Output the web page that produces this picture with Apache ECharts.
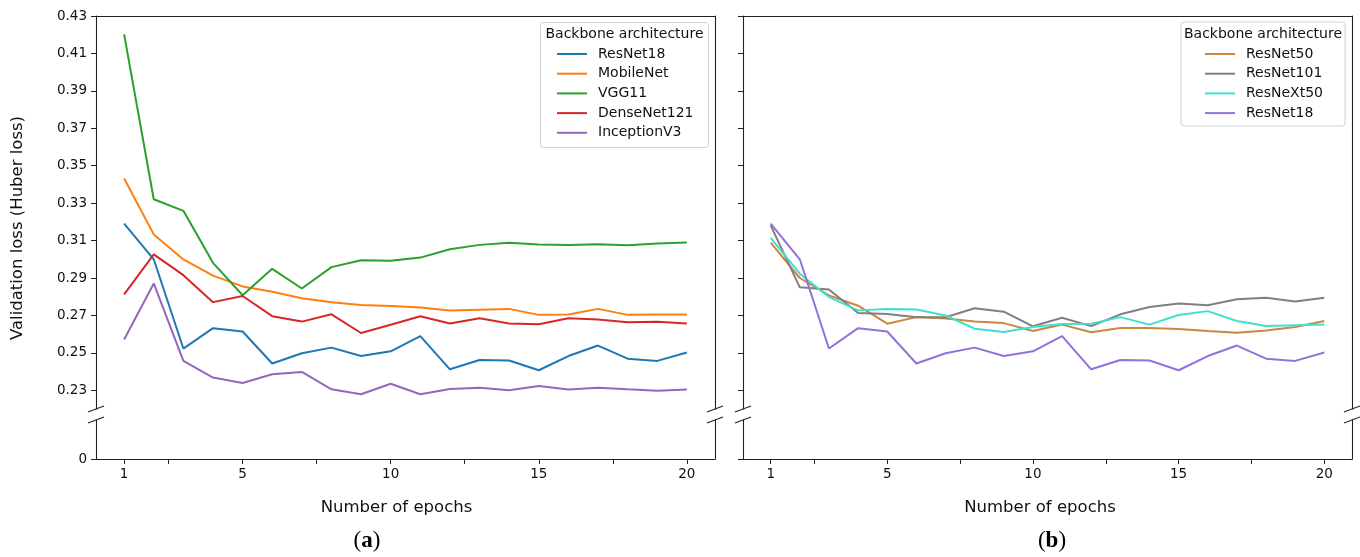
<!DOCTYPE html>
<html>
<head>
<meta charset="utf-8">
<script src="https://cdn.jsdelivr.net/npm/echarts@6/dist/echarts.min.js"></script>
<style>
  html, body { margin: 0; padding: 0; background: #fff; }
  #main { width: 1360px; height: 557px; }
</style>
</head>
<body>
<div id="main"></div>
<script>
// epochs and tick positions
const epochs = [1, 2, 3, 4, 5, 6, 7, 8, 9, 10, 11, 12, 13, 14, 15, 16, 17, 18, 19, 20];
const xLabelVals = [1, 5, 10, 15, 20];
const xTickVals = [1, 2.5, 5, 7.5, 10, 12.5, 15, 17.5, 20];
const yTickVals = [0.23, 0.25, 0.27, 0.29, 0.31, 0.33, 0.35, 0.37, 0.39, 0.41, 0.43];

// panel (a)
const resnet18 = [0.3190, 0.3000, 0.2523, 0.2632, 0.2614, 0.2443, 0.2498, 0.2528, 0.2483, 0.2508, 0.2589, 0.2412, 0.2462, 0.2459, 0.2407, 0.2483, 0.2539, 0.2469, 0.2457, 0.2502];
const mobilenet = [0.3432, 0.3133, 0.2999, 0.2913, 0.2855, 0.2826, 0.2792, 0.2771, 0.2756, 0.2750, 0.2742, 0.2726, 0.2731, 0.2735, 0.2703, 0.2705, 0.2735, 0.2703, 0.2705, 0.2705];
const vgg11 = [0.4202, 0.3321, 0.3259, 0.2981, 0.2808, 0.2949, 0.2844, 0.2958, 0.2995, 0.2992, 0.3009, 0.3054, 0.3077, 0.3088, 0.3079, 0.3077, 0.3081, 0.3075, 0.3084, 0.3090];
const densenet121 = [0.2813, 0.3026, 0.2915, 0.2771, 0.2804, 0.2696, 0.2667, 0.2706, 0.2606, 0.2650, 0.2696, 0.2657, 0.2685, 0.2657, 0.2653, 0.2685, 0.2678, 0.2664, 0.2666, 0.2657];
const inceptionv3 = [0.2571, 0.2871, 0.2457, 0.2368, 0.2339, 0.2386, 0.2398, 0.2305, 0.2279, 0.2335, 0.2279, 0.2307, 0.2314, 0.2300, 0.2323, 0.2304, 0.2314, 0.2305, 0.2298, 0.2304];

// panel (b)
const resnet50 = [0.3089, 0.2900, 0.2807, 0.2752, 0.2656, 0.2691, 0.2683, 0.2667, 0.2659, 0.2617, 0.2651, 0.2610, 0.2633, 0.2633, 0.2627, 0.2617, 0.2608, 0.2620, 0.2638, 0.2670];
const resnet101 = [0.3181, 0.2850, 0.2839, 0.2713, 0.2707, 0.2690, 0.2690, 0.2738, 0.2720, 0.2642, 0.2688, 0.2643, 0.2706, 0.2745, 0.2764, 0.2754, 0.2786, 0.2795, 0.2775, 0.2795];
const resnext50 = [0.3115, 0.2923, 0.2798, 0.2727, 0.2734, 0.2732, 0.2700, 0.2629, 0.2611, 0.2638, 0.2654, 0.2656, 0.2691, 0.2651, 0.2702, 0.2723, 0.2670, 0.2643, 0.2647, 0.2651];

const seriesA = [
  { name: 'ResNet18', data: resnet18, color: '#1f77b4' },
  { name: 'MobileNet', data: mobilenet, color: '#ff7f0e' },
  { name: 'VGG11', data: vgg11, color: '#2ca02c' },
  { name: 'DenseNet121', data: densenet121, color: '#d62728' },
  { name: 'InceptionV3', data: inceptionv3, color: '#9467bd' }
];
const seriesB = [
  { name: 'ResNet50', data: resnet50, color: '#cd853f' },
  { name: 'ResNet101', data: resnet101, color: '#808080' },
  { name: 'ResNeXt50', data: resnext50, color: '#40e0d0' },
  { name: 'ResNet18', data: resnet18, color: '#9370db' }
];

const FONT = 'DejaVu Sans';
const TXT = '#111';
const SPINE = { show: true, onZero: false, lineStyle: { color: '#222', width: 1.1 } };

const gridA = { left: 96, width: 619 };
const gridB = { left: 743, width: 609 };
const grids = [
  { left: gridA.left, width: gridA.width, top: 16, height: 393 },
  { left: gridA.left, width: gridA.width, top: 420, height: 39 },
  { left: gridB.left, width: gridB.width, top: 16, height: 393 },
  { left: gridB.left, width: gridB.width, top: 420, height: 39 }
].map(g => Object.assign(g, { outerBoundsMode: 'none', containLabel: false }));

function topX(gi) {
  return {
    type: 'value', gridIndex: gi, position: 'top', min: 0.05, max: 20.95,
    axisLine: SPINE, axisTick: { show: false }, axisLabel: { show: false }, splitLine: { show: false }
  };
}
function bottomX(gi, shift) {
  return {
    type: 'value', gridIndex: gi, position: 'bottom', min: 0.05, max: 20.95,
    axisLine: SPINE,
    axisTick: { show: true, length: 5, customValues: xTickVals, lineStyle: { color: '#222' } },
    axisLabel: { show: true, customValues: xLabelVals, margin: 8, fontFamily: FONT, fontSize: 13.5, color: TXT },
    splitLine: { show: false },
    name: 'Number of epochs', nameLocation: 'middle', nameGap: 40,
    nameTextStyle: { fontFamily: FONT, fontSize: 16.5, color: TXT, padding: [0, shift, 0, 0] }
  };
}
function leftY(gi, min, max, ticks, labels) {
  return {
    type: 'value', gridIndex: gi, position: 'left', min: min, max: max,
    axisLine: SPINE,
    axisTick: { show: true, length: 5, customValues: ticks, lineStyle: { color: '#222' } },
    axisLabel: {
      show: labels, customValues: ticks, margin: 9, fontFamily: FONT, fontSize: 13.5, color: TXT,
      formatter: v => (v === 0 ? '0' : v.toFixed(2))
    },
    splitLine: { show: false }
  };
}
function rightY(gi, min, max) {
  return {
    type: 'value', gridIndex: gi, position: 'right', min: min, max: max,
    axisLine: SPINE, axisTick: { show: false }, axisLabel: { show: false }, splitLine: { show: false }
  };
}

const xAxis = [topX(0), bottomX(1, 18), topX(2), bottomX(3, 15)];
const yAxis = [
  leftY(0, 0.22, 0.43, yTickVals, true), rightY(0, 0.22, 0.43),
  leftY(1, 0, 0.02, [0], true), rightY(1, 0, 0.02),
  leftY(2, 0.22, 0.43, yTickVals, false), rightY(2, 0.22, 0.43),
  leftY(3, 0, 0.02, [0], false), rightY(3, 0, 0.02)
];

function mkSeries(s, name, xi, yi) {
  return {
    type: 'line', name: name, xAxisIndex: xi, yAxisIndex: yi,
    data: epochs.map((e, i) => [e, s.data[i]]),
    symbol: 'none', color: s.color,
    lineStyle: { color: s.color, width: 2 },
    emphasis: { disabled: true }
  };
}
const series = [
  ...seriesA.map(s => mkSeries(s, s.name, 0, 0)),
  ...seriesB.map(s => mkSeries(s, s.name + ' (b)', 2, 4))
];

// thin line icon centred in a 30x14 box
const LINE_ICON = 'path://M0,0M0,6L30,6L30,8L0,8ZM30,14';

function legend(names, left) {
  return {
    orient: 'vertical', left: left, top: 47, padding: 0, z: 10,
    data: names, icon: LINE_ICON,
    itemWidth: 30, itemHeight: 14, itemGap: 5.7,
    formatter: n => n.replace(' (b)', ''),
    textStyle: { fontFamily: FONT, fontSize: 14, color: TXT, lineHeight: 14, padding: [0, 0, 0, 6] },
    selectedMode: false
  };
}

// broken axis marks
const breakMarks = [];
[96, 715, 743, 1352].forEach(x => {
  [409, 420].forEach(y => {
    breakMarks.push({
      type: 'line', shape: { x1: x - 8, y1: y + 3, x2: x + 8, y2: y - 3 },
      style: { stroke: '#222', lineWidth: 1.1 }, z: 100
    });
  });
});

const legendBox = (x, y, w, h) => ({
  type: 'rect', shape: { x: x, y: y, width: w, height: h, r: 3 },
  style: { fill: 'rgba(255,255,255,0.85)', stroke: '#d0d0d0', lineWidth: 1 }, z: 1
});
const legendTitle = (x) => ({
  type: 'text', x: x, y: 34, z: 2,
  style: { text: 'Backbone architecture', font: '14px "DejaVu Sans"', fill: TXT, textAlign: 'center', textVerticalAlign: 'middle' }
});
const caption = (x, letter) => ({
  type: 'text', x: x, y: 541,
  style: {
    text: '{n|(}{b|' + letter + '}{n|)}',
    rich: {
      n: { fontFamily: 'Liberation Serif', fontSize: 23, fill: '#000' },
      b: { fontFamily: 'Liberation Serif', fontSize: 23, fontWeight: 'bold', fill: '#000' }
    },
    textAlign: 'center', textVerticalAlign: 'middle'
  }
});

const option = {
  animation: false,
  backgroundColor: '#fff',
  grid: grids,
  xAxis: xAxis,
  yAxis: yAxis,
  legend: [
    legend(seriesA.map(s => s.name), 557),
    legend(seriesB.map(s => s.name + ' (b)'), 1205)
  ],
  series: series,
  graphic: [
    ...breakMarks,
    legendBox(540.5, 22.5, 168, 125),
    legendBox(1181, 22, 164, 104),
    legendTitle(624.5),
    legendTitle(1263),
    {
      type: 'text', x: 18, y: 228, rotation: Math.PI / 2,
      style: { text: 'Validation loss (Huber loss)', font: '16.5px "DejaVu Sans"', fill: TXT, textAlign: 'center', textVerticalAlign: 'middle' }
    },
    caption(367, 'a'),
    caption(1052, 'b')
  ]
};

const chart = echarts.init(document.getElementById('main'));
chart.setOption(option);
</script>
</body>
</html>
